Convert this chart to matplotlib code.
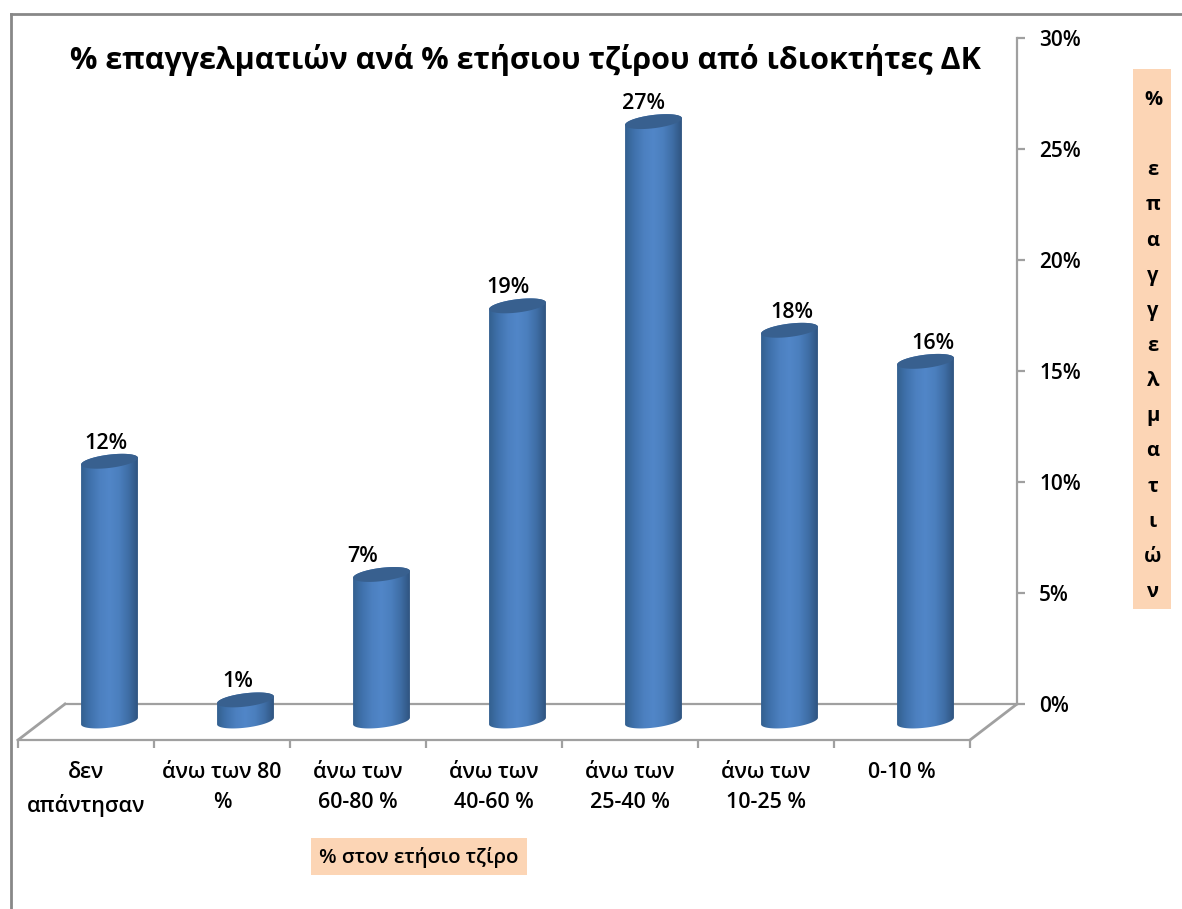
import numpy as np
import matplotlib
matplotlib.use('Agg')
import matplotlib.pyplot as plt
from matplotlib.colors import LinearSegmentedColormap
from matplotlib.patches import Polygon, Rectangle
from matplotlib.lines import Line2D

plt.rcParams['font.family'] = ['Open Sans', 'DejaVu Sans']

categories = ['δεν\nαπάντησαν', 'άνω των 80\n%', 'άνω των\n60-80 %', 'άνω των\n40-60 %',
              'άνω των\n25-40 %', 'άνω των\n10-25 %', '0-10 %']
values = [11.7, 0.95, 6.6, 18.7, 27.0, 17.6, 16.2]
y_ticks = [0, 5, 10, 15, 20, 25, 30]
title = '% επαγγελματιών ανά % ετήσιου τζίρου από ιδιοκτήτες ΔΚ'
x_title = '% στον ετήσιο τζίρο'
y_title = '%\n\nε\nπ\nα\nγ\nγ\nε\nλ\nμ\nα\nτ\nι\nώ\nν'

W, H = 1182, 909
GREY = '#a0a0a0'
PEACH = '#fcd5b5'
# label nudges in pixels, the labels in the original sit a bit off centre
label_dx = [-4, -8, -19, -10, -10, 2, 7]

fig = plt.figure(figsize=(W / 100, H / 100), dpi=100, facecolor='white')


def px_axes(x0, x1, ytop, ybottom):
    return fig.add_axes([x0 / W, 1 - ybottom / H, (x1 - x0) / W, (ybottom - ytop) / H])


# back wall with the value axis on the right
ax = px_axes(65, 1017, 38, 704)
ax.set_xlim(-0.5, 6.5)
ax.set_ylim(0, 30)
ax.patch.set_alpha(0)
for s in ['left', 'top']:
    ax.spines[s].set_visible(False)
for s in ['right', 'bottom']:
    ax.spines[s].set_color(GREY)
    ax.spines[s].set_linewidth(1.6)
ax.set_xticks([])
ax.yaxis.tick_right()
ax.set_yticks(y_ticks)
ax.set_yticklabels(['%d%%' % t for t in y_ticks], fontsize=15, fontweight='semibold')
ax.tick_params(axis='y', length=6, width=1.6, color=GREY, pad=10)

# front edge of the floor with the categories
ax_front = px_axes(18, 970, 700, 740)
ax_front.set_xlim(-0.5, 6.5)
ax_front.patch.set_alpha(0)
for s in ['left', 'top', 'right']:
    ax_front.spines[s].set_visible(False)
ax_front.spines['bottom'].set_color(GREY)
ax_front.spines['bottom'].set_linewidth(1.6)
ax_front.set_yticks([])
ax_front.set_xticks(range(len(categories)))
ax_front.set_xticklabels(categories, fontsize=15.5, fontweight='semibold', linespacing=1.62)
ax_front.set_xticks(np.arange(-0.5, 7), minor=True)
ax_front.tick_params(axis='x', which='major', length=0, pad=15.5)
ax_front.tick_params(axis='x', which='minor', length=6, width=1.6, color=GREY)

# floor sides and the outer frame of the slide
for xs, ys, c, lw in [([18, 65], [740, 704], GREY, 2.0), ([970, 1017], [740, 704], GREY, 2.0),
                      ([11, 11], [14, 909], '#888888', 2.0), ([11, 1182], [14, 14], '#888888', 2.0)]:
    fig.add_artist(Line2D([x / W for x in xs], [1 - y / H for y in ys], color=c, lw=lw))

# cylinders, sit half way across the floor
ax_bars = px_axes(41.5, 993.5, 55, 765.4)
ax_bars.set_axis_off()
ax_bars.patch.set_alpha(0)

cyl = LinearSegmentedColormap.from_list('cyl', ['#33608f', '#4072ad', '#4c80c0', '#5186c8', '#4b7fbe',
                                                '#3f6ea6', '#2f5480'])
half_w = 0.209
ell_h = 0.3
shear = 0.15
t = np.linspace(0, 2 * np.pi, 121)

for i, v in enumerate(values):
    low = np.linspace(np.pi, 2 * np.pi, 60)
    up = np.linspace(0, np.pi, 60)
    xs = np.r_[i + half_w * np.cos(low), i + half_w * np.cos(up)]
    ys = np.r_[ell_h * np.sin(low) + shear * np.cos(low), v + ell_h * np.sin(up) + shear * np.cos(up)]
    body = Polygon(np.c_[xs, ys], closed=True, facecolor='none', edgecolor='none', transform=ax_bars.transData)
    ax_bars.add_patch(body)
    im = ax_bars.imshow(np.linspace(0, 1, 256).reshape(1, -1), cmap=cyl, aspect='auto', zorder=2,
                        extent=[i - half_w, i + half_w, -1, v + 1])
    im.set_clip_path(body)
    ax_bars.fill(i + half_w * np.cos(t), v + ell_h * np.sin(t) + shear * np.cos(t),
                 color='#38608f', lw=0, zorder=3)
    # pixel offset for the label, 18 px above the top
    ax_bars.annotate('%d%%' % round(v), (i, v), xytext=(label_dx[i] * 0.72, 18 * 0.72),
                     textcoords='offset points', ha='center', va='center',
                     fontsize=15.5, fontweight='semibold', zorder=4)
ax_bars.set_xlim(-0.5, 6.5)
ax_bars.set_ylim(-2, 30)

# title and the two peach axis captions
fig.text(525 / W, 1 - 59.5 / H, title, ha='center', va='center', fontsize=22, fontweight='bold')

fig.add_artist(Rectangle((311 / W, 1 - 875 / H), 216 / W, 37 / H, transform=fig.transFigure,
                         facecolor=PEACH, edgecolor='none'))
fig.text(419 / W, 1 - 858 / H, x_title, ha='center', va='center', fontsize=14.7, fontweight='semibold')

fig.add_artist(Rectangle((1133 / W, 1 - 609 / H), 38 / W, 540 / H, transform=fig.transFigure,
                         facecolor=PEACH, edgecolor='none'))
fig.text(1153 / W, 1 - 346 / H, y_title, ha='center', va='center', fontsize=14.5, fontweight='bold',
         linespacing=2.01)

fig.savefig('out.png', dpi=100)
